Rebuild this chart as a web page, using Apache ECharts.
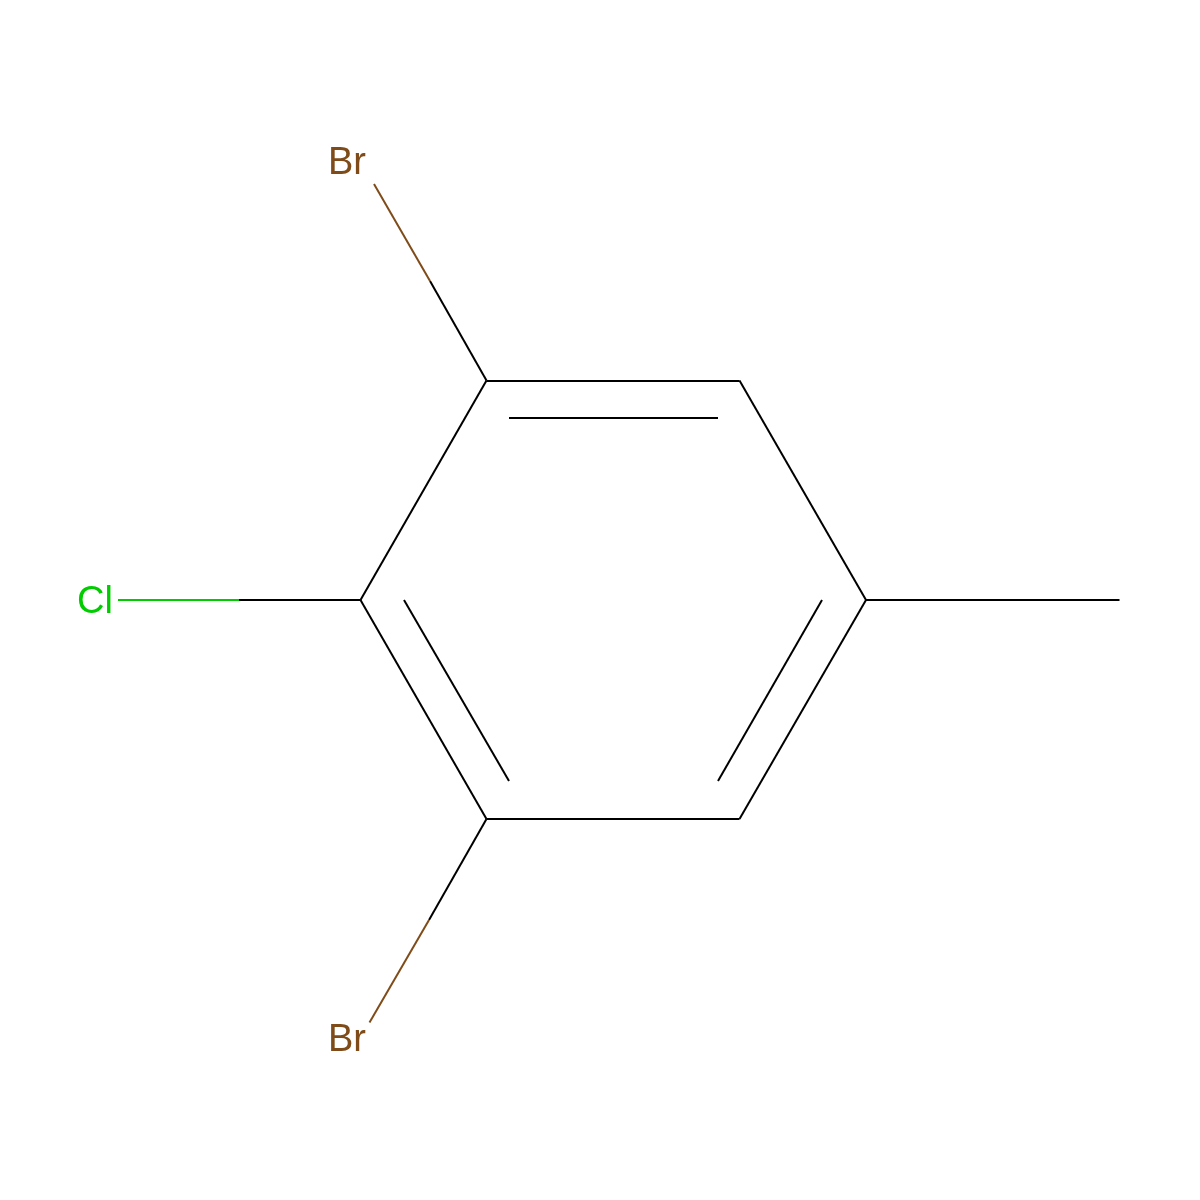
<!DOCTYPE html>
<html><head><meta charset="utf-8">
<style>html,body{margin:0;padding:0;background:#fff}#c{width:1200px;height:1200px}</style>
<script src="https://cdn.jsdelivr.net/npm/echarts@6/dist/echarts.min.js"></script>
</head><body><div id="c"></div>
<script>
// Bond segments: [x1, y1, x2, y2] in picture units
const blackBonds = [
  [486.5,380.5,739.5,380.5],
  [739.5,380.5,866,600],
  [866,600,739.5,819],
  [739.5,819,486.5,819],
  [486.5,819,360.5,600],
  [360.5,600,486.5,380.5],
  [509,418,718,418],
  [822,600,718,781],
  [509,781,404,600],
  [866,600,1119.5,600],
  [486.5,380.5,430,281],
  [360.5,600,239,600],
  [486.5,819,429,920]
];
const brownBonds = [[430,281,374,184],[429,920,369.5,1022.5]];
const greenBonds = [[239,600,118,600]];
const atomLabels = [
  {text:'Br',x:347,y:164,color:'#7F4C19'},
  {text:'Cl',x:95,y:603,color:'#00CC00'},
  {text:'Br',x:347,y:1041,color:'#7F4C19'}
];
const toLines = (segs,color)=>({
  type:'lines',coordinateSystem:'cartesian2d',polyline:false,silent:true,
  lineStyle:{color:color,width:2,opacity:1,cap:'butt'},
  data:segs.map(s=>({coords:[[s[0],s[1]],[s[2],s[3]]]}))
});
const chart = echarts.init(document.getElementById('c'),null,{renderer:'canvas'});
chart.setOption({
  animation:false,backgroundColor:'#fff',
  grid:{left:0,right:0,top:0,bottom:0},
  xAxis:{type:'value',min:0,max:1200,show:false},
  yAxis:{type:'value',min:0,max:1200,inverse:true,show:false},
  series:[
    toLines(blackBonds,'#000000'),
    toLines(brownBonds,'#7F4C19'),
    toLines(greenBonds,'#00CC00'),
    {type:'scatter',symbolSize:0,silent:true,itemStyle:{opacity:1},
     data:atomLabels.map(a=>({value:[a.x,a.y],
       label:{show:true,position:'inside',formatter:a.text,color:a.color,opacity:1,
       fontFamily:'Liberation Sans',fontSize:38}}))}
  ]
});
</script></body></html>
